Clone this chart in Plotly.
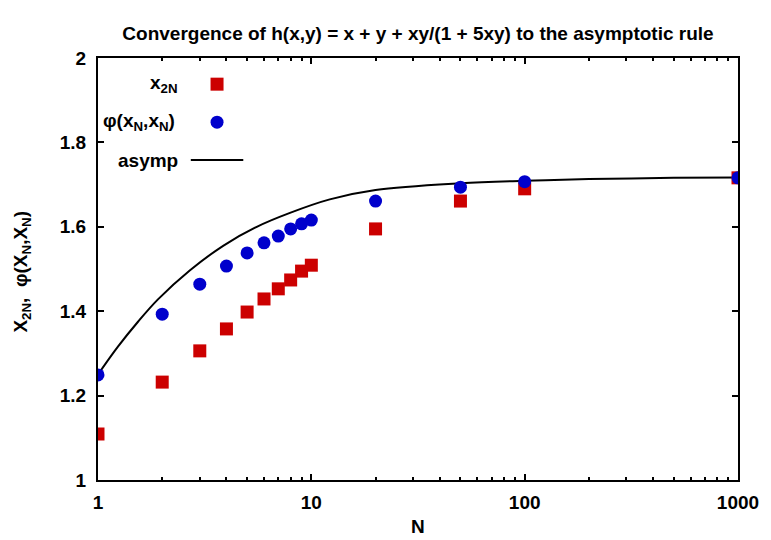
import plotly.graph_objects as go

# valeurs
N_pts = [1, 2, 3, 4, 5, 6, 7, 8, 9, 10, 20, 50, 100, 1000]
x2N = [1.109, 1.232, 1.306, 1.358, 1.398, 1.429, 1.453, 1.474, 1.495, 1.509, 1.595, 1.661, 1.690, 1.716]
phi = [1.249, 1.393, 1.464, 1.507, 1.538, 1.562, 1.578, 1.595, 1.607, 1.616, 1.661, 1.694, 1.707, 1.716]

N_asymp = [1, 1.24, 1.54, 1.91, 2.70, 3.86, 5.55, 7.94, 12.2, 20, 50, 100, 200, 500, 1000]
asymp = [1.250, 1.316, 1.375, 1.428, 1.497, 1.555, 1.600, 1.633, 1.665, 1.687, 1.703, 1.709, 1.713, 1.716, 1.717]

x_minor = [k * 10 ** p for p in range(3) for k in range(2, 10)]

FONT = "Liberation Sans"
RED = "#cc0000"
BLUE = "#0000cc"

fig = go.Figure()
fig.add_trace(go.Scatter(x=N_asymp, y=asymp, mode="lines",
                         line=dict(color="black", width=2, shape="spline", smoothing=1.0),
                         showlegend=False))
fig.add_trace(go.Scatter(x=N_pts, y=x2N, mode="markers",
                         marker=dict(symbol="square", size=13, color=RED), showlegend=False))
fig.add_trace(go.Scatter(x=N_pts, y=phi, mode="markers",
                         marker=dict(symbol="circle", size=13, color=BLUE), showlegend=False))

axis_common = dict(showline=True, linecolor="black", linewidth=2, mirror="ticks", ticks="inside",
                   ticklen=6, tickwidth=1.5, tickcolor="black", showgrid=False, zeroline=False,
                   tickfont=dict(family=FONT, size=19, color="black", weight="bold"))

fig.update_xaxes(type="log", range=[0, 3], tickvals=[1, 10, 100, 1000], ticktext=["1", "10", "100", "1000"],
                 minor=dict(tickmode="array", tickvals=x_minor, ticks="inside", ticklen=3, tickcolor="black"),
                 ticklabelstandoff=4, **axis_common)
fig.update_yaxes(range=[1, 2], tickvals=[1, 1.2, 1.4, 1.6, 1.8, 2], ticktext=["1", "1.2", "1.4", "1.6", "1.8", "2"],
                 ticklabelstandoff=6, **axis_common)

# légende à la gnuplot (texte à gauche, symbole à droite)
leg_txt = ["x<sub>2N</sub>", "φ(x<sub>N</sub>,x<sub>N</sub>)", "asymp"]
leg_y = [0.938, 0.848, 0.758]
leg_shift = [0, -3, 0]
annots = []
for t, yy, sh in zip(leg_txt, leg_y, leg_shift):
    annots.append(dict(text=t, x=0.128, y=yy, xref="paper", yref="paper", xanchor="right", yanchor="middle",
                       xshift=sh, showarrow=False, font=dict(family=FONT, size=19, color="black", weight="bold")))

annots.append(dict(text="X<sub>2N</sub>,  φ(X<sub>N</sub>,X<sub>N</sub>)", x=-0.118, y=0.495, xref="paper",
                   yref="paper", xanchor="center", yanchor="middle", textangle=-90, showarrow=False,
                   font=dict(family=FONT, size=19, color="black", weight="bold")))
annots.append(dict(text="N", x=0.5, y=-0.111, xref="paper", yref="paper", xanchor="center", yanchor="middle",
                   showarrow=False, font=dict(family=FONT, size=19, color="black", weight="bold")))

shapes = [
    dict(type="rect", xref="paper", yref="paper", xsizemode="pixel", ysizemode="pixel",
         xanchor=0.186, yanchor=0.938, x0=-6.5, x1=6.5, y0=-6.5, y1=6.5, fillcolor=RED, line=dict(width=0)),
    dict(type="circle", xref="paper", yref="paper", xsizemode="pixel", ysizemode="pixel",
         xanchor=0.186, yanchor=0.848, x0=-6.5, x1=6.5, y0=-6.5, y1=6.5, fillcolor=BLUE, line=dict(width=0)),
    dict(type="line", xref="paper", yref="paper", x0=0.145, x1=0.227, y0=0.758, y1=0.758,
         line=dict(color="black", width=2)),
]

# la page a une marge de 8 px : on compense
fig.update_layout(
    width=763, height=532,
    margin=dict(l=90, r=33, t=50, b=60),
    paper_bgcolor="white", plot_bgcolor="white",
    title=dict(text="Convergence of h(x,y) = x + y + xy/(1 + 5xy) to the asymptotic rule",
               x=0.5, xref="paper", xanchor="center", y=1 - 25 / 532, yanchor="middle",
               font=dict(family=FONT, size=19, color="black", weight="bold")),
    annotations=annots, shapes=shapes,
)

fig.write_html("out.html")
